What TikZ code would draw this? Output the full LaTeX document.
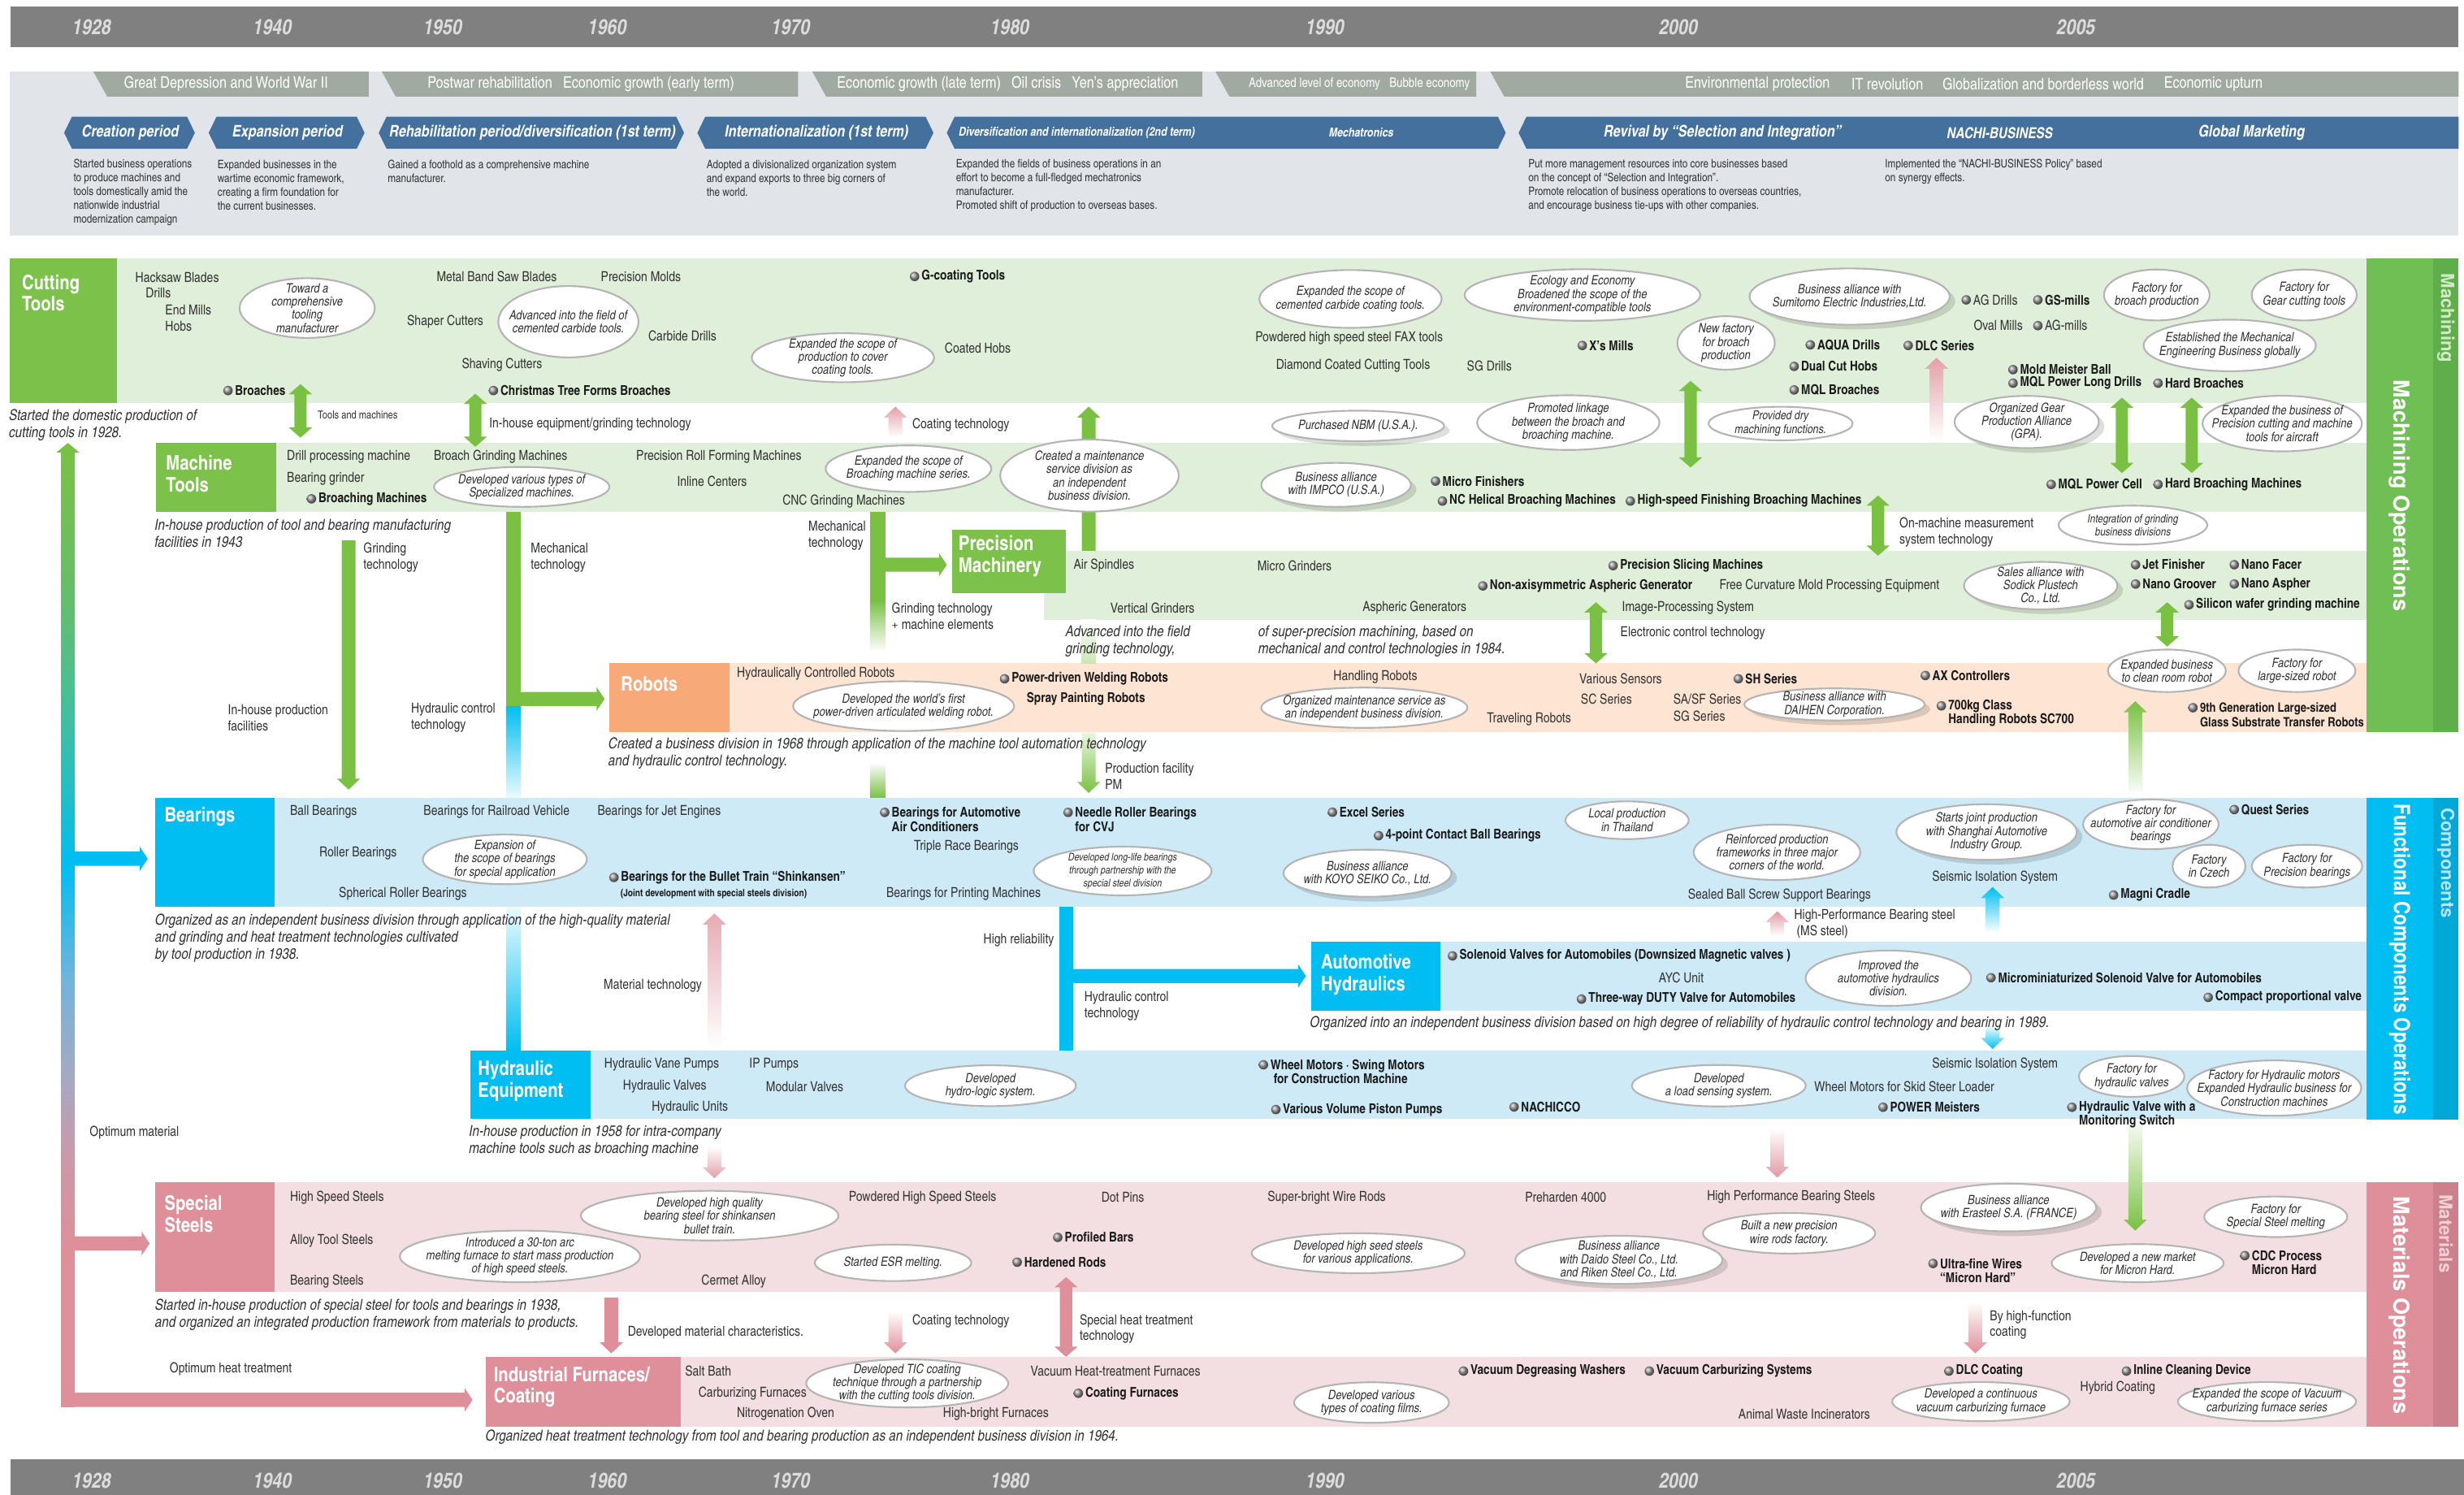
\documentclass[tikz,border=0pt]{standalone}
\usepackage{fontspec}
\usepackage{graphicx}
\setmainfont{texgyreheroscn}[Extension=.otf,UprightFont=*-regular,BoldFont=*-bold,ItalicFont=*-italic,BoldItalicFont=*-bolditalic]
\newfontfamily\widefont{texgyreheros}[Extension=.otf,UprightFont=*-regular,BoldFont=*-bold]

\definecolor{barc}{HTML}{808080}
\definecolor{yrc}{HTML}{DCDCDC}
\definecolor{panelc}{HTML}{E1E5E9}
\definecolor{erac}{HTML}{A0AAA0}
\definecolor{perc}{HTML}{44709E}
\definecolor{txtc}{HTML}{333333}
\definecolor{blk}{HTML}{1A1A1A}
\definecolor{grnband}{HTML}{E0EFD9}
\definecolor{grnhdr}{HTML}{7CC24A}
\definecolor{grncol}{HTML}{70BF55}
\definecolor{grnstrip}{HTML}{5EAE4C}
\definecolor{grnlt}{HTML}{D2EBC6}
\definecolor{grnarr}{HTML}{7AC143}
\definecolor{pchband}{HTML}{FDE4D3}
\definecolor{pchhdr}{HTML}{F7A978}
\definecolor{bluband}{HTML}{CDEAF6}
\definecolor{bluhdr}{HTML}{00BEF1}
\definecolor{blustrip}{HTML}{00A8D8}
\definecolor{blult}{HTML}{B5E5F6}
\definecolor{pkband}{HTML}{F3DFE2}
\definecolor{pkhdr}{HTML}{DE8F9A}
\definecolor{pkstrip}{HTML}{CC808C}
\definecolor{pklt}{HTML}{F2D0D5}
\definecolor{bubc}{HTML}{B4B4B4}
\definecolor{ballc}{HTML}{9A9A9A}
\definecolor{mauve}{HTML}{CB99A9}
\definecolor{greyblue}{HTML}{A6A9C1}
\definecolor{steel}{HTML}{74B4DC}
\definecolor{teal}{HTML}{3CBFA6}
\definecolor{leaf}{HTML}{66BE6A}

\pgfdeclareverticalshading{mainbar}{100bp}{color(0bp)=(pkhdr); color(33bp)=(pkhdr); color(38bp)=(mauve); color(42bp)=(greyblue); color(47bp)=(steel); color(53bp)=(bluhdr); color(60bp)=(teal); color(67bp)=(leaf); color(75bp)=(grnarr); color(100bp)=(grnarr)}

\tikzset{
  lbl/.style={anchor=west, inner sep=0pt, align=left, text=txtc, font=\fontsize{8.8}{10.2}\selectfont},
  sml/.style={lbl, font=\fontsize{7}{8}\selectfont},
  blbl/.style={anchor=west, inner sep=0pt, align=left, text=blk, font=\bfseries\fontsize{8.6}{9}\selectfont},
  note/.style={anchor=west, inner sep=0pt, align=left, text=txtc, font=\itshape\fontsize{9.6}{11}\selectfont},
  desc/.style={anchor=west, inner sep=0pt, align=left, text=txtc, font=\fontsize{7.4}{8.8}\selectfont},
  bubt/.style={inner sep=0pt, align=center, text=txtc, font=\itshape\fontsize{8.2}{8.4}\selectfont},
  bubs/.style={fill=white, draw=bubc, line width=1.1pt},
  bubsh/.style={fill=black, opacity=0.13},
  hdr/.style={anchor=west, inner sep=0pt, align=left, text=white, font=\bfseries\fontsize{12.8}{13.9}\selectfont},
  yr/.style={inner sep=0pt, text=yrc, font=\bfseries\itshape\fontsize{13.5}{14}\selectfont},
  era/.style={anchor=west, inner sep=0pt, text=white, font=\fontsize{10.2}{11}\selectfont},
  per/.style={inner sep=0pt, text=white, font=\bfseries\itshape\fontsize{10.2}{11}\selectfont},
  side/.style={rotate=-90, inner sep=0pt, text=white, font=\widefont\bfseries\fontsize{14}{14}\selectfont},
  strip/.style={side, anchor=west, font=\widefont\bfseries\fontsize{11.5}{12}\selectfont}
}

% product with a ball in front
\newcommand\itm[4][blbl]{\node[#1] (#2) at (#3) {#4};
  \shade[ball color=ballc] ([xshift=-4.3pt]#2.west) circle (3pt);}
\newcommand\itmm[4][]{\node[blbl,#1] (#2) at (#3) {#4};
  \shade[ball color=ballc] ([xshift=-4.3pt,yshift=4.5pt]#2.west) circle (3pt);}
% speech bubbles
\newcommand\bub[6][]{\path[bubs] (#3) ellipse [x radius=#4pt, y radius=#5pt];
  \node[bubt,#1] (#2) at (#3) {#6};}
\newcommand\sbub[6][]{\fill[bubsh] ([xshift=3.5pt,yshift=-3pt]#3) ellipse [x radius=#4pt, y radius=#5pt];
  \bub[#1]{#2}{#3}{#4}{#5}{#6}}
% block arrows
\newcommand\uarr[4][fill=grnarr]{\path[#1] (#2-4.4,#3) -- (#2-4.4,#4+7) -- (#2-7.4,#4+7) -- (#2,#4) -- (#2+7.4,#4+7) -- (#2+4.4,#4+7) -- (#2+4.4,#3) -- cycle;}
\newcommand\darr[4][fill=grnarr]{\path[#1] (#2-4.4,#3) -- (#2-4.4,#4-7) -- (#2-7.4,#4-7) -- (#2,#4) -- (#2+7.4,#4-7) -- (#2+4.4,#4-7) -- (#2+4.4,#3) -- cycle;}
\newcommand\dblarr[4][fill=grnarr]{\path[#1] (#2,#3) -- (#2+7.4,#3+6.5) -- (#2+3.9,#3+6.5) -- (#2+3.9,#4-6.5) -- (#2+7.4,#4-6.5) -- (#2,#4) -- (#2-7.4,#4-6.5) -- (#2-3.9,#4-6.5) -- (#2-3.9,#3+6.5) -- (#2-7.4,#3+6.5) -- cycle;}
\newcommand\rarr[4][fill=grnarr]{\path[#1] (#3,#2-4.5) -- (#4-5,#2-4.5) -- (#4-5,#2-7.5) -- (#4,#2) -- (#4-5,#2+7.5) -- (#4-5,#2+4.5) -- (#3,#2+4.5) -- cycle;}

\begin{document}
\begin{tikzpicture}[x=1pt,y=-1pt]
\useasboundingbox (0,0) rectangle (1568,951);

% years
\fill[barc] (6.8,4.1) rectangle (1564.5,30.1);
\fill[barc] (6.8,928.7) rectangle (1568,951);
\foreach \yr/\x in {1928/58.3,1940/173.3,1950/281.7,1960/386.4,1970/503.1,1980/642.6,1990/843.1,2000/1068,2005/1321}{
  \node[yr] (top\yr) at (\x,17.4) {\yr};
  \node[yr] (bot\yr) at (\x,942.4) {\yr};
}

% eras and periods
\fill[panelc] (6.3,45.6) rectangle (1564.5,149.7);
\foreach \a/\b in {59.4/234.6,243/507.9,516.9/765,773.5/939.4,948.4/1564.5}
  \fill[erac] (\a,45.6) -- (\b,45.6) -- (\b,61.4) -- (\a+8.8,61.4) -- cycle;
\foreach \a/\b in {40.8/124,132.8/232,241/435.3,443.8/594,602.5/958.2}
  \fill[perc] (\a,84.5) -- (\a+5,74.2) -- (\b-5,74.2) -- (\b,84.5) -- (\b-5,94.7) -- (\a+5,94.7) -- cycle;
\fill[perc] (966.4,84.5) -- (971.4,74.2) -- (1564.5,74.2) -- (1564.5,94.7) -- (971.4,94.7) -- cycle;

\node[era] (era1) at (78.7,53.5) {Great Depression and World War II};
\node[era] (era2) at (271.9,53.5) {Postwar rehabilitation\hspace{4.5pt} Economic growth (early term)};
\node[era] (era3) at (532.5,53.5) {Economic growth (late term)\hspace{4.5pt} Oil crisis\hspace{4.5pt} Yen’s appreciation};
\node[era, font=\fontsize{8.4}{9}\selectfont] (era4) at (794.4,53.5) {Advanced level of economy\hspace{4pt} Bubble economy};
\node[era] (era5) at (1072.2,53.5) {Environmental protection};
\node[era] (era6) at (1178,53.5) {IT revolution};
\node[era] (era7) at (1235.9,53.5) {Globalization and borderless world};
\node[era] (era8) at (1376.9,53.5) {Economic upturn};

\node[per] (creation) at (82.9,84.5) {Creation period};
\node[per] (expansion) at (182.9,84.5) {Expansion period};
\node[per] (rehab) at (338.8,84.5) {Rehabilitation period/diversification (1st term)};
\node[per] (intl) at (519.6,84.5) {Internationalization (1st term)};
\node[per, font=\bfseries\itshape\fontsize{7.8}{8}\selectfont] (divers) at (685.2,84.5) {Diversification and internationalization (2nd term)};
\node[per, font=\bfseries\itshape\fontsize{7.8}{8}\selectfont] (mechatro) at (866.2,84.5) {Mechatronics};
\node[per] (revival) at (1096.2,84.5) {Revival by “Selection and Integration”};
\node[per, font=\bfseries\itshape\fontsize{9.6}{10}\selectfont] (nachi) at (1272.6,84.5) {NACHI-BUSINESS};
\node[per] (global) at (1432.8,84.5) {Global Marketing};

\node[desc] (dcreation) at (46.6,122.3) {Started business operations\\to produce machines and\\tools domestically amid the\\nationwide industrial\\modernization campaign};
\node[desc] (dexpansion) at (138.3,117.9) {Expanded businesses in the\\wartime economic framework,\\creating a firm foundation for\\the current businesses.};
\node[desc] (drehab) at (246.6,109.1) {Gained a foothold as a comprehensive machine\\manufacturer.};
\node[desc] (dintl) at (449.5,113.5) {Adopted a divisionalized organization system\\and expand exports to three big corners of\\the world.};
\node[desc] (ddivers) at (608.2,117.9) {Expanded the fields of business operations in an\\effort to become a full-fledged mechatronics\\manufacturer.\\Promoted shift of production to overseas bases.};
\node[desc] (drevival) at (972.4,117.9) {Put more management resources into core businesses based\\on the concept of “Selection and Integration”.\\Promote relocation of business operations to overseas countries,\\and encourage business tie-ups with other companies.};
\node[desc] (dnachi) at (1199.4,109.1) {Implemented the “NACHI-BUSINESS Policy” based\\on synergy effects.};

% bands
\fill[grnband] (74.4,164.6) rectangle (1505.8,256.2);
\fill[grnhdr] (6.3,164.6) rectangle (74.4,256.2);
\fill[grnband] (175.7,281.8) rectangle (1505.8,325.5);
\fill[grnhdr] (99.2,281.8) rectangle (175.7,325.5);
\fill[grnband] (678.4,350.5) rectangle (1505.8,394.3);
\fill[grnband] (664.2,377.3) rectangle (678.4,394.3);
\fill[pchband] (464.4,422.1) rectangle (1505.8,466);
\fill[pchhdr] (387.7,422.1) rectangle (464.4,466);
\fill[bluband] (174.9,507.5) rectangle (1505.8,577.1);
\fill[bluhdr] (98.7,507.5) rectangle (174.9,577.1);
\fill[bluband] (916.6,599.2) rectangle (1505.8,643.1);
\fill[bluhdr] (834.5,599.2) rectangle (916.6,643.1);
\fill[bluband] (375.9,668.2) rectangle (1505.8,711.9);
\fill[bluhdr] (299.5,668.2) rectangle (375.9,711.9);
\fill[pkband] (174.9,752.4) rectangle (1505.8,822.1);
\fill[pkhdr] (98.7,752.4) rectangle (174.9,822.1);
\fill[pkband] (433.3,863.3) rectangle (1505.8,907.6);
\fill[pkhdr] (309.3,863.3) rectangle (433.3,907.6);

\fill[grncol] (1505.8,164.6) rectangle (1548.4,466);
\fill[grnstrip] (1548.4,164.6) rectangle (1564.5,466);
\fill[bluhdr] (1505.8,507.5) rectangle (1548.4,712.3);
\fill[blustrip] (1548.4,507.5) rectangle (1564.5,712.3);
\fill[pkhdr] (1505.8,752.4) rectangle (1548.4,907.6);
\fill[pkstrip] (1548.4,752.4) rectangle (1564.5,907.6);

\node[side] (machop) at (1527.1,315.3) {Machining Operations};
\node[strip, text=grnlt] (machs) at (1556.5,173.8) {Machining};
\node[side] (compop) at (1527.1,610.4) {\scalebox{0.83}[1]{Functional Components Operations}};
\node[strip, text=blult] (comps) at (1556.5,513.7) {Components};
\node[side] (matop) at (1527.1,830.5) {Materials Operations};
\node[strip, text=pklt] (mats) at (1556.5,759.8) {Materials};

% left trunk
\shade[shading=mainbar] (38.8,895.3) -- (38.8,288) -- (35.8,288) -- (43.2,281.8) -- (50.6,288) -- (47.6,288) -- (47.6,895.3) -- cycle;
\rarr[fill=bluhdr]{546.4}{43}{94}
\rarr[fill=pkhdr]{791.2}{43}{95.2}
\rarr[fill=pkhdr]{890.7}{38.8}{300.7}

% machining arrows
\dblarr{191.2}{244.4}{278.5}
\dblarr{302.5}{250.5}{284.3}
\dblarr{1075.8}{242.3}{297.5}
\dblarr{1350.3}{253}{301}
\dblarr{1394.7}{253}{301}
\dblarr{1015.6}{383.2}{422.1}
\dblarr{1195.1}{315.3}{353.6}
\dblarr{1379.1}{383.2}{411.4}
\darr{221.8}{343.9}{502.4}
\fill[grnarr] (322,325.5) rectangle (331.3,449.3);
\rarr{444.7}{326}{384.7}
\shade[top color=bluhdr, bottom color=bluhdr!8] (322,449.3) rectangle (331.3,507.5);
\shade[top color=bluhdr!8, bottom color=bluhdr] (322,577.1) rectangle (331.3,668.2);
\fill[grnarr] (553.6,325.5) rectangle (563.4,382);
\shade[top color=grnarr, bottom color=white] (553.6,382) rectangle (563.4,414.5);
\rarr{359.3}{558}{602.5}
\shade[top color=white, bottom color=grnarr] (553.6,485) rectangle (563.4,507.5);
\uarr{692.8}{350.5}{258.7}
\shade[top color=white, bottom color=grnarr!40] (688.2,394.3) rectangle (697.4,422.1);
\darr[top color=grnarr!15, bottom color=grnarr]{692.8}{466}{504.5}
\uarr[top color=grnarr, bottom color=grnarr!5]{1358.8}{503.4}{446.2}
\darr[top color=grnarr!8, bottom color=grnarr]{1358.8}{715.5}{783}

% material arrows
\uarr[top color=pkhdr!85, bottom color=white]{569.8}{278.1}{258.7}
\uarr[top color=pkhdr!85, bottom color=white]{1232.3}{280.2}{227.6}
\uarr[top color=pkhdr!75, bottom color=white]{454.6}{667}{581.2}
\darr[top color=white, bottom color=pkhdr!85]{454.6}{729.2}{749.7}
\uarr[top color=pkhdr!90, bottom color=white]{1131}{595.5}{579.8}
\darr[top color=white, bottom color=pkhdr!90]{1131}{718}{749.3}
\darr[fill=pkhdr]{389}{825.7}{861.1}
\darr[top color=white, bottom color=pkhdr]{569.8}{834.4}{861.1}
\dblarr[fill=pkhdr]{678.4}{812.6}{863.3}
\darr[top color=white, bottom color=pkhdr]{1257}{828.4}{861.1}

% component arrows
\fill[bluhdr] (674,577.1) rectangle (683,668.2);
\rarr[fill=bluhdr]{621}{678}{831}
\uarr[top color=bluhdr, bottom color=white]{1268}{593.5}{564.4}
\darr[top color=white, bottom color=bluhdr]{1268}{652.2}{667.4}

\fill[grnhdr] (605.9,337.2) rectangle (678.4,377.3);

% headers
\node[hdr] (cutting) at (13.8,186.4) {Cutting\\Tools};
\node[hdr] (machine) at (105.5,301.4) {Machine\\Tools};
\node[hdr, font=\bfseries\fontsize{13}{14}\selectfont] (precision) at (609.7,353.7) {Precision\\Machinery};
\node[hdr] (robots) at (395,435.4) {Robots};
\node[hdr] (bearings) at (104.5,519.6) {Bearings};
\node[hdr] (autohyd) at (840.4,620) {Automotive\\Hydraulics};
\node[hdr] (hydequip) at (304,688) {Hydraulic\\Equipment};
\node[hdr] (special) at (104.5,772.4) {Special\\Steels};
\node[hdr] (furnace) at (314,882.5) {Industrial Furnaces/\\Coating};

% cutting tools
\node[lbl] (hacksaw) at (86,176.3) {Hacksaw Blades};
\node[lbl] (drills) at (92.5,186.5) {Drills};
\node[lbl] (endmill) at (105,197) {End Mills};
\node[lbl] (hobs) at (105,207.6) {Hobs};
\bub{toward}{195.5,196}{43}{19}{Toward a\\comprehensive\\tooling\\manufacturer}
\node[lbl] (bandsaw) at (277.7,175.9) {Metal Band Saw Blades};
\node[lbl] (molds) at (382.2,175.9) {Precision Molds};
\node[lbl] (shaper) at (258.9,204.5) {Shaper Cutters};
\bub{carbide}{361.7,204.7}{44.6}{22.7}{Advanced into the field of\\cemented carbide tools.}
\node[lbl] (cdrills) at (412.4,213.7) {Carbide Drills};
\node[lbl] (shaving) at (293.7,232.1) {Shaving Cutters};
\itm{xmas}{318.3,248.5}{Christmas Tree Forms Broaches}
\itm{broaches}{149.4,248.5}{Broaches}
\bub{coatscope}{536.4,227.6}{58}{15.6}{Expanded the scope of\\production to cover\\coating tools.}
\itm{gcoat}{586.3,175.9}{G-coating Tools}
\node[lbl] (chobs) at (601,221.5) {Coated Hobs};
\bub{cemscope}{859.4,190.2}{58}{18.4}{Expanded the scope of\\cemented carbide coating tools.}
\node[lbl] (fax) at (798.7,215.3) {Powdered high speed steel FAX tools};
\node[lbl] (diamond) at (811.9,232.7) {Diamond Coated Cutting Tools};
\node[lbl] (sgdrills) at (933.3,232.7) {SG Drills};
\bub{ecology}{1007,187.7}{75}{16.4}{Ecology and Economy\\Broadened the scope of the\\environment-compatible tools}
\itm{xsmills}{1011.2,219.8}{X’s Mills}
\bub{newfac}{1098.4,218.2}{31}{17}{New factory\\for broach\\production}
\sbub{sumitomo}{1177,188.7}{63.7}{17.9}{Business alliance with\\Sumitomo Electric Industries,Ltd.}
\itm{aqua}{1156.3,219.4}{AQUA Drills}
\itm{dualcut}{1146,233.1}{Dual Cut Hobs}
\itm{mqlbr}{1146,248.1}{MQL Broaches}
\itm{dlcser}{1218.6,219.8}{DLC Series}
\itm[lbl]{agdrills}{1255.5,190.8}{AG Drills}
\itm{gsmills}{1301.1,190.8}{GS-mills}
\node[lbl] (oval) at (1255.8,207.2) {Oval Mills};
\itm[lbl]{agmills}{1301.1,207.2}{AG-mills}
\bub{facbroach}{1372.5,187.7}{33.6}{16.2}{Factory for\\broach production}
\bub{facgear}{1466.3,187.7}{33.4}{16.2}{Factory for\\Gear cutting tools}
\bub{mecheng}{1418.9,219.8}{54.8}{16.4}{Established the Mechanical\\Engineering Business globally}
\itm{moldball}{1285.3,235.2}{Mold Meister Ball}
\itm{mqllong}{1285.3,243.8}{MQL Power Long Drills}
\itm{hardbr}{1377.6,243.8}{Hard Broaches}

\node[note] (n1) at (5.5,270.6) {Started the domestic production of\\cutting tools in 1928.};
\node[sml] (toolsmach) at (202,263.8) {Tools and machines};
\node[lbl] (inhouseq) at (311.2,270) {In-house equipment/grinding technology};
\node[lbl] (coattech1) at (580.4,270.3) {Coating technology};
\sbub{nbm}{864.3,271}{54.7}{9.7}{Purchased NBM (U.S.A.).}
\bub{linkage}{998,268.9}{58}{17.4}{Promoted linkage\\between the broach and\\broaching machine.}
\bub[font=\itshape\fontsize{7.8}{8.4}\selectfont]{dry}{1133.1,269.5}{45.8}{10.7}{Provided dry\\machining functions.}
\sbub{gpa}{1289.7,268.5}{45.9}{16.6}{Organized Gear\\Production Alliance\\(GPA).}
\bub{aircraft}{1452.3,269.5}{50.7}{17.7}{Expanded the business of\\Precision cutting and machine\\tools for aircraft}

% machine tools
\node[lbl] (drillmc) at (182.4,290.8) {Drill processing machine};
\node[lbl] (bgrind) at (182.4,304.7) {Bearing grinder};
\itm{brmc}{202.5,317.4}{Broaching Machines}
\node[lbl] (brgrind) at (275.9,290.8) {Broach Grinding Machines};
\bub{specialmc}{332,309.8}{55.8}{12.7}{Developed various types of\\Specialized machines.}
\node[lbl] (roll) at (404.7,290.8) {Precision Roll Forming Machines};
\node[lbl] (inline) at (430.7,306.3) {Inline Centers};
\node[lbl] (cnc) at (497.8,319) {CNC Grinding Machines};
\bub{brseries}{578.1,298.2}{52.7}{14.8}{Expanded the scope of\\Broaching machine series.}
\bub{maint}{693.3,302.6}{56.8}{22.9}{Created a maintenance\\service division as\\an independent\\business division.}
\sbub{impco}{850.2,308.5}{47.6}{14}{Business alliance\\with IMPCO (U.S.A.)}
\itm{microfin}{917.8,306.1}{Micro Finishers}
\itm{nchelical}{922.2,318.8}{NC Helical Broaching Machines}
\itm{hsfinish}{1041.8,318.8}{High-speed Finishing Broaching Machines}
\itm{mqlcell}{1309.6,308.2}{MQL Power Cell}
\itm{hardbrmc}{1377.6,308.2}{Hard Broaching Machines}

\node[note] (n2) at (98.2,339.2) {In-house production of tool and bearing manufacturing\\facilities in 1943};
\node[lbl] (grindtech) at (231.1,354.8) {Grinding\\technology};
\node[lbl] (mechtech1) at (337.6,354.8) {Mechanical\\technology};
\node[lbl] (inhousefac) at (144.9,456.6) {In-house production\\facilities};
\node[lbl] (hydctl1) at (261.4,456.6) {Hydraulic control\\technology};
\node[lbl] (mechtech2) at (514.3,341) {Mechanical\\technology};
\node[lbl] (grindelem) at (567.3,392) {Grinding technology\\+ machine elements};

% precision machinery
\node[lbl] (airsp) at (683,359.9) {Air Spindles};
\node[lbl] (vgrind) at (706.4,386.9) {Vertical Grinders};
\node[lbl] (microgr) at (800,359.9) {Micro Grinders};
\itm{slicing}{1030.8,359.9}{Precision Slicing Machines}
\itm{nonaxis}{947.9,372.8}{Non-axisymmetric Aspheric Generator}
\node[lbl] (freecurv) at (1094,372.8) {Free Curvature Mold Processing Equipment};
\node[lbl] (aspheric) at (866.9,386.9) {Aspheric Generators};
\node[lbl] (imgproc) at (1032,386.9) {Image-Processing System};
\node[lbl] (electr) at (1031,402.6) {Electronic control technology};
\node[lbl] (onmach) at (1208.6,338.7) {On-machine measurement\\system technology};
\bub[font=\itshape\fontsize{7.3}{8.2}\selectfont]{integ}{1357.3,334.1}{47.3}{12.4}{Integration of grinding\\business divisions}
\sbub{sodick}{1298.6,372.6}{48.8}{15.1}{Sales alliance with\\Sodick Plustech\\Co., Ltd.}
\itm{jetfin}{1363.3,359.3}{Jet Finisher}
\itm{nanofacer}{1426.1,359.3}{Nano Facer}
\itm{nanogroover}{1363.3,371.6}{Nano Groover}
\itm{nanoaspher}{1426.1,371.6}{Nano Aspher}
\itm{silicon}{1397.3,384.8}{Silicon wafer grinding machine}
\node[note] (n4) at (677.9,408.2) {Advanced into the field\\grinding technology,};
\node[note] (n5) at (800.5,407.9) {of super-precision machining, based on\\mechanical and control technologies in 1984.};

% robots
\node[lbl] (hydrob) at (468.8,428.8) {Hydraulically Controlled Robots};
\bub{worldfirst}{575,449.3}{70.3}{15.8}{Developed the world’s first\\power-driven articulated welding robot.}
\itm{welding}{643.6,431.9}{Power-driven Welding Robots}
\node[blbl] (spray) at (653.2,444.8) {Spray Painting Robots};
\node[lbl] (handling) at (848.4,430.9) {Handling Robots};
\bub{maintsvc}{868.2,450.3}{65.6}{12.8}{Organized maintenance service as\\an independent business division.}
\node[lbl] (travel) at (946.1,457.9) {Traveling Robots};
\node[lbl] (sensors) at (1004.8,431.9) {Various Sensors};
\node[lbl] (scser) at (1005.8,444.8) {SC Series};
\node[lbl] (sasf) at (1064.7,444.8) {SA/SF Series};
\node[lbl] (sgser) at (1064.7,455.8) {SG Series};
\itm{shser}{1110.5,431.9}{SH Series}
\sbub{daihen}{1167.4,448.2}{57.4}{10.2}{Business alliance with\\DAIHEN Corporation.}
\itm{axctrl}{1229.5,429.8}{AX Controllers}
\itmm{sc700}{1239.7,453.6}{700kg Class\\Handling Robots SC700}
\bub{cleanroom}{1378.9,426.8}{37.5}{13.5}{Expanded business\\to clean room robot}
\bub{largerobot}{1461.7,426.8}{37.2}{13.5}{Factory for\\large-sized robot}
\itmm[font=\bfseries\fontsize{8.2}{9}\selectfont]{gen9}{1399.8,454.8}{9th Generation Large-sized\\Glass Substrate Transfer Robots}
\node[note] (n3) at (387,479.4) {Created a business division in 1968 through application of the machine tool automation technology\\and hydraulic control technology.};
\node[lbl] (prodfac) at (703.1,493.8) {Production facility\\PM};

% bearings
\node[lbl] (ballb) at (184.4,516.8) {Ball Bearings};
\node[lbl] (rollerb) at (203,542.7) {Roller Bearings};
\node[lbl] (spherb) at (215.5,568.9) {Spherical Roller Bearings};
\node[lbl] (railb) at (269.4,516.8) {Bearings for Railroad Vehicle};
\bub{expbear}{321.3,546.8}{52.2}{15.8}{Expansion of\\the scope of bearings\\for special application}
\node[lbl] (jetb) at (380.1,516.8) {Bearings for Jet Engines};
\itm{shinkansen}{395,558.3}{Bearings for the Bullet Train “Shinkansen”}
\node[blbl, font=\bfseries\fontsize{6.4}{7}\selectfont] (joint) at (394.7,568.9) {(Joint development with special steels division)};
\itmm{aircon}{567.3,521.4}{Bearings for Automotive\\Air Conditioners}
\node[lbl] (triple) at (581.4,538.8) {Triple Race Bearings};
\node[lbl] (printing) at (563.9,568.9) {Bearings for Printing Machines};
\itmm{needle}{684,521.4}{Needle Roller Bearings\\for CVJ}
\bub[font=\itshape\fontsize{6.7}{8.2}\selectfont]{longlife}{714.4,554.2}{56.6}{15.5}{Developed long-life bearings\\through partnership with the\\special steel division}
\itm{excel}{852.2,516.8}{Excel Series}
\itm{fourpt}{881.6,531.7}{4-point Contact Ball Bearings}
\sbub{koyo}{870.2,555.6}{53.4}{15}{Business alliance\\with KOYO SEIKO Co., Ltd.}
\bub{thailand}{1035.4,521.9}{39.2}{12}{Local production\\in Thailand}
\bub{reinforce}{1130.8,542.3}{53}{17.6}{Reinforced production\\frameworks in three major\\corners of the world.}
\node[lbl] (sealed) at (1074,569.5) {Sealed Ball Screw Support Bearings};
\sbub{shanghai}{1264.2,529.4}{57.4}{17.7}{Starts joint production\\with Shanghai Automotive\\Industry Group.}
\bub{facaircon}{1368.7,524.5}{43.1}{15.8}{Factory for\\automotive air conditioner\\bearings}
\itm{quest}{1426.1,515.1}{Quest Series}
\bub{czech}{1405.7,551.1}{23.2}{13.6}{Factory\\in Czech}
\bub{facprec}{1468.1,551.1}{35.1}{13.6}{Factory for\\Precision bearings}
\node[lbl] (seismic1) at (1229.3,558.1) {Seismic Isolation System};
\itm{magni}{1349.3,569.5}{Magni Cradle}

\node[note] (n6) at (98.5,596.9) {Organized as an independent business division through application of the high-quality material\\and grinding and heat treatment technologies cultivated\\by tool production in 1938.};
\node[lbl] (highrel) at (625.7,598.5) {High reliability};
\node[lbl] (mattech) at (384,627.2) {Material technology};
\node[lbl] (hydctl2) at (689.9,640.2) {Hydraulic control\\technology};
\node[lbl] (msteel) at (1141.6,587.9) {High-Performance Bearing steel\\\hspace{1.5pt}(MS steel)};

% automotive hydraulics
\itm{solenoid}{928.6,608.2}{Solenoid Valves for Automobiles (Downsized Magnetic valves )}
\node[lbl] (ayc) at (1055.4,622.1) {AYC Unit};
\itm{threeway}{1010.7,635.7}{Three-way DUTY Valve for Automobiles}
\bub{improved}{1201.7,622.4}{52.7}{17.6}{Improved the\\automotive hydraulics\\division.}
\itm{micromini}{1271.3,622.1}{Microminiaturized Solenoid Valve for Automobiles}
\itm{compact}{1409.5,634.6}{Compact proportional valve}
\node[note] (n7) at (833.4,651.1) {Organized into an independent business division based on high degree of reliability of hydraulic control technology and bearing in 1989.};

% hydraulic equipment
\node[lbl] (vane) at (384.4,677.5) {Hydraulic Vane Pumps};
\node[lbl] (hvalves) at (396.3,691.4) {Hydraulic Valves};
\node[lbl] (hunits) at (414.6,704.5) {Hydraulic Units};
\node[lbl] (ippumps) at (476.7,677.5) {IP Pumps};
\node[lbl] (modular) at (487.3,691.4) {Modular Valves};
\bub{hydrologic}{630.3,690.8}{54.4}{13}{Developed\\hydro-logic system.}
\itmm{wheel}{808.3,682}{Wheel Motors · Swing Motors\\\hspace{2pt}for Construction Machine}
\itm{piston}{816.2,706}{Various Volume Piston Pumps}
\itm{nachicco}{967.8,704.3}{NACHICCO}
\bub{loadsens}{1093.8,690.8}{55.3}{13.2}{Developed\\a load sensing system.}
\node[lbl] (skid) at (1154.4,691.4) {Wheel Motors for Skid Steer Loader};
\node[lbl] (seismic2) at (1229.3,677.5) {Seismic Isolation System};
\itm{power}{1202.6,704.5}{POWER Meisters}
\bub{fachydv}{1356.5,684.9}{33.5}{13}{Factory for\\hydraulic valves}
\bub{fachydm}{1447.2,692.3}{55.4}{17.6}{Factory for Hydraulic motors\\Expanded Hydraulic business for\\Construction machines}
\itmm{monitor}{1322.8,709}{Hydraulic Valve with a\\Monitoring Switch}
\node[note] (n8) at (298.3,726) {In-house production in 1958 for intra-company\\machine tools such as broaching machine};
\node[lbl] (optmat) at (56.9,720.4) {Optimum material};

% special steels
\node[lbl] (hss) at (184.4,761.9) {High Speed Steels};
\node[lbl] (alloy) at (184.4,789.4) {Alloy Tool Steels};
\node[lbl] (bsteels) at (184.4,815.1) {Bearing Steels};
\bub{hqbear}{451.6,773.5}{82}{15.8}{Developed high quality\\bearing steel for shinkansen\\bullet train.}
\bub{arc}{330.9,799.4}{76.5}{16.4}{Introduced a 30-ton arc\\melting furnace to start mass production\\of high speed steels.}
\node[lbl] (cermet) at (446.2,815.1) {Cermet Alloy};
\node[lbl] (phss) at (540,761.9) {Powdered High Speed Steels};
\bub{esr}{568.3,803.5}{49.8}{11.6}{Started ESR melting.}
\node[lbl] (dotpins) at (700.7,761.9) {Dot Pins};
\itm{profiled}{677.4,787.3}{Profiled Bars}
\itm{hardened}{651.6,803.1}{Hardened Rods}
\node[lbl] (superbright) at (806.5,761.9) {Super-bright Wire Rods};
\bub{highseed}{864.3,797.4}{67.8}{12.7}{Developed high seed steels\\for various applications.}
\node[lbl] (preharden) at (970.3,761.9) {Preharden 4000};
\sbub{daido}{1030.2,801.6}{65.9}{15.3}{Business alliance\\with Daido Steel Co., Ltd.\\and Riken Steel Co., Ltd.}
\node[lbl] (hpbs) at (1086.1,761.3) {High Performance Bearing Steels};
\bub{wirerods}{1138.5,784.7}{54.8}{12.9}{Built a new precision\\wire rods factory.}
\sbub{erasteel}{1278.2,768.3}{55.8}{15.2}{Business alliance\\with Erasteel S.A. (FRANCE)}
\itmm{ultrafine}{1234.4,808.4}{Ultra-fine Wires\\“Micron Hard”}
\bub{newmarket}{1360.3,803.7}{54.7}{12.1}{Developed a new market\\for Micron Hard.}
\bub{facspecial}{1448.2,774.2}{45.5}{12.9}{Factory for\\Special Steel melting}
\itmm{cdc}{1432.8,803.4}{CDC Process\\Micron Hard}
\node[note] (n9) at (98.5,836.6) {Started in-house production of special steel for tools and bearings in 1938,\\and organized an integrated production framework from materials to products.};

\node[lbl] (devmat) at (399.3,848.1) {Developed material characteristics.};
\node[lbl] (coattech2) at (580.4,840.7) {Coating technology};
\node[lbl] (specheat) at (686.9,845.6) {Special heat treatment\\technology};
\node[lbl] (byhigh) at (1266.1,843) {By high-function\\coating};
\node[lbl] (optheat) at (107.8,871.1) {Optimum heat treatment};

% industrial furnaces
\node[lbl] (salt) at (435.8,872.4) {Salt Bath};
\node[lbl] (carbf) at (444.3,886.5) {Carburizing Furnaces};
\node[lbl] (nitro) at (468.7,899.8) {Nitrogenation Oven};
\bub{tic}{577.3,880.2}{64.3}{15.3}{Developed TIC coating\\technique through a partnership\\with the cutting tools division.}
\node[lbl] (highbright) at (600,899.8) {High-bright Furnaces};
\node[lbl] (vacheat) at (655.7,872.4) {Vacuum Heat-treatment Furnaces};
\itm{coatfurn}{690.5,886.5}{Coating Furnaces}
\itm{degrease}{935.6,872.4}{Vacuum Degreasing Washers}
\itm{vaccarb}{1053.9,872.4}{Vacuum Carburizing Systems}
\bub{films}{872.8,892.4}{49.3}{12.9}{Developed various\\types of coating films.}
\node[lbl] (animal) at (1106.1,899.8) {Animal Waste Incinerators};
\itm{dlccoat}{1244.5,872.4}{DLC Coating}
\bub{contvac}{1260.6,891.8}{56.5}{12.4}{Developed a continuous\\vacuum carburizing furnace}
\itm{inlineclean}{1357.5,872.4}{Inline Cleaning Device}
\node[lbl] (hybrid) at (1323.6,882.9) {Hybrid Coating};
\bub{vacscope}{1442.6,891.8}{56.7}{12.4}{Expanded the scope of Vacuum\\carburizing furnace series}
\node[note] (n10) at (308.8,914.6) {Organized heat treatment technology from tool and bearing production as an independent business division in 1964.};

\end{tikzpicture}
\end{document}
